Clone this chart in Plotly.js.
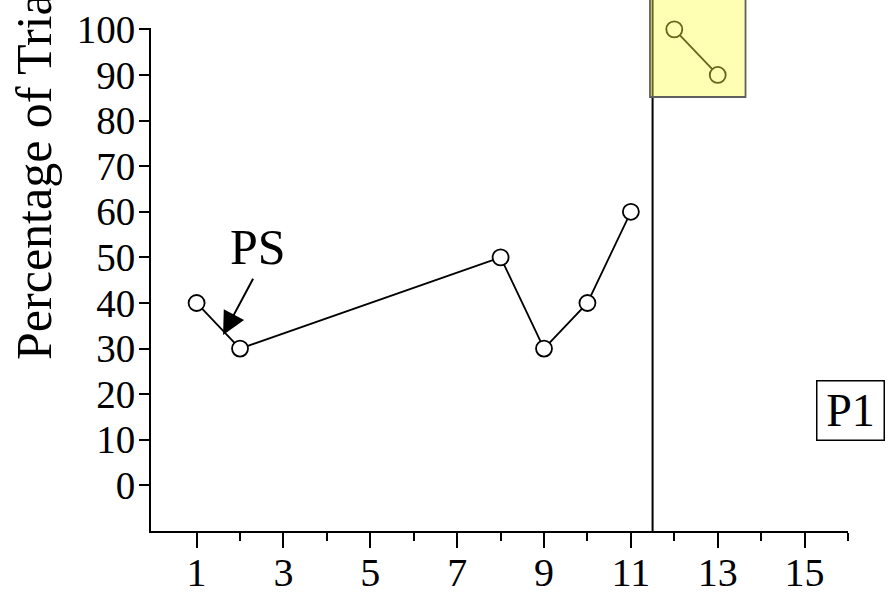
<!DOCTYPE html>
<html>
<head>
<meta charset="utf-8">
<script src="https://cdn.plot.ly/plotly-3.0.1.min.js"></script>
<style>
  html, body { margin: 0; padding: 0; background: #fff; }
  #chart { width: 890px; height: 595px; }
</style>
</head>
<body>
<div id="chart"></div>
<script>
// Data
const trialsA = [1, 2, 8, 9, 10, 11];
const percentA = [40, 30, 50, 30, 40, 60];
const trialsB = [12, 13];
const percentB = [100, 90];
const xTickVals = [1, 3, 5, 7, 9, 11, 13, 15];
const xMinorVals = [2, 4, 6, 8, 10, 12, 14, 16];
const yTickVals = [0, 10, 20, 30, 40, 50, 60, 70, 80, 90, 100];
const phaseChange = 11.5;
const yTitle = "Percentage of Trials";
const psLabel = "PS";
const panelLabel = "P1";

const serif = "Liberation Serif, Times New Roman, serif";

const markerStyle = {
  symbol: 'circle',
  size: 16,
  color: '#ffffff',
  line: { color: '#000000', width: 1.8 }
};

const traces = [
  {
    x: trialsA, y: percentA, type: 'scatter', mode: 'lines+markers',
    line: { color: '#000000', width: 1.8 },
    marker: markerStyle, cliponaxis: false, showlegend: false, hoverinfo: 'skip'
  },
  {
    x: trialsB, y: percentB, type: 'scatter', mode: 'lines+markers',
    line: { color: '#000000', width: 1.8 },
    marker: markerStyle, cliponaxis: false, showlegend: false, hoverinfo: 'skip'
  }
];

const layout = {
  width: 890, height: 595,
  margin: { l: 151, r: 42, t: 28, b: 64 },
  paper_bgcolor: '#ffffff', plot_bgcolor: '#ffffff',
  showlegend: false,
  font: { family: serif, color: '#000000' },
  xaxis: {
    range: [-0.05, 16],
    showgrid: false, zeroline: false,
    showline: true, linecolor: '#000000', linewidth: 2,
    ticks: 'outside', ticklen: 15, tickwidth: 2, tickcolor: '#000000',
    tickmode: 'array', tickvals: xTickVals, ticktext: xTickVals.map(String),
    ticklabelstandoff: -10,
    tickfont: { family: serif, size: 40, color: '#000000' },
    minor: { tickmode: 'array', tickvals: xMinorVals, ticks: 'outside', ticklen: 8, tickwidth: 2, tickcolor: '#000000', showgrid: false }
  },
  yaxis: {
    range: [-10, 100.3],
    showgrid: false, zeroline: false,
    showline: true, linecolor: '#000000', linewidth: 2,
    ticks: 'outside', ticklen: 10, tickwidth: 2, tickcolor: '#000000',
    tickmode: 'array', tickvals: yTickVals, ticktext: yTickVals.map(String),
    ticklabelstandoff: -4,
    tickfont: { family: serif, size: 39, color: '#000000' }
  },
  shapes: [
    {
      type: 'line', xref: 'x', yref: 'paper',
      x0: phaseChange, x1: phaseChange, y0: 0, y1: 1.06,
      line: { color: '#000000', width: 2 }, layer: 'above'
    },
    {
      type: 'rect', xref: 'x', yref: 'paper',
      x0: 11.44, x1: 13.64, y0: 0.8628, y1: 1.06,
      fillcolor: 'rgba(255,255,65,0.4)',
      line: { color: '#606060', width: 1.8 }, layer: 'above'
    }
  ],
  annotations: [
    {
      text: yTitle, textangle: -90, xref: 'paper', yref: 'paper',
      x: -0.1679, y: 0.7376, xanchor: 'center', yanchor: 'middle',
      showarrow: false, font: { family: serif, size: 50, color: '#000000' }
    },
    {
      text: psLabel, xref: 'x', yref: 'y', x: 1.61, y: 33.0,
      showarrow: false,
      xshift: 35, yshift: 88,
      font: { family: serif, size: 50, color: '#000000' }
    },
    {
      text: ' ', xref: 'x', yref: 'y', x: 1.61, y: 33.0,
      ax: 32, ay: -60, showarrow: true,
      arrowhead: 2, arrowsize: 2.3, arrowwidth: 2, arrowcolor: '#000000',
      font: { family: serif, size: 4, color: '#000000' }
    },
    {
      text: panelLabel, xref: 'paper', yref: 'paper',
      x: 1.0029, y: 0.2386, xanchor: 'center', yanchor: 'middle',
      showarrow: false, width: 66, height: 58, borderpad: 0,
      bordercolor: '#000000', borderwidth: 1.5,
      font: { family: serif, size: 46, color: '#000000' }
    }
  ]
};

Plotly.newPlot('chart', traces, layout, { staticPlot: true, displayModeBar: false });
</script>
</body>
</html>
